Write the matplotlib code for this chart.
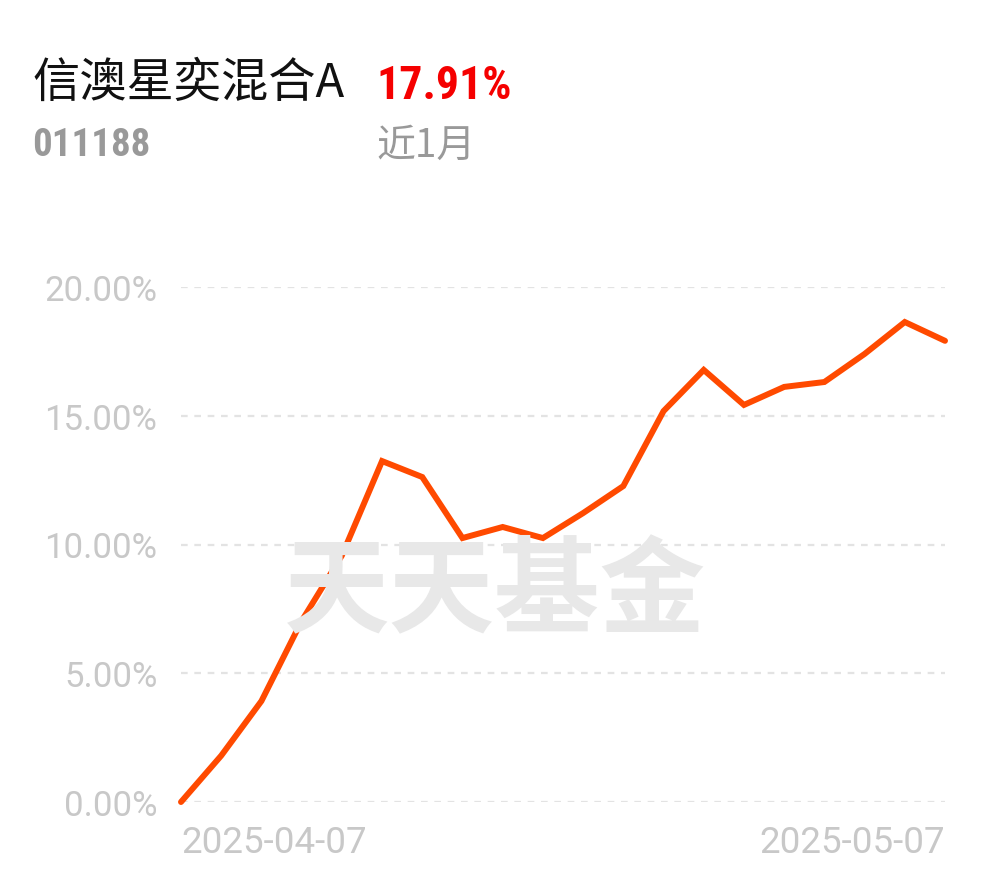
import matplotlib
matplotlib.use("Agg")
import matplotlib.pyplot as plt

plt.rcParams['font.family'] = ['Roboto', 'Noto Sans CJK SC', 'DejaVu Sans']

fund_name = "信澳星奕混合A"
fund_code = "011188"
period_return = "17.91%"
period_label = "近1月"
dates = ["2025-04-07", "2025-04-08", "2025-04-09", "2025-04-10", "2025-04-11",
         "2025-04-14", "2025-04-15", "2025-04-16", "2025-04-17", "2025-04-18",
         "2025-04-21", "2025-04-22", "2025-04-23", "2025-04-24", "2025-04-25",
         "2025-04-28", "2025-04-29", "2025-04-30", "2025-05-06", "2025-05-07"]
returns = [0.00, 1.80, 3.92, 7.03, 9.57, 13.24, 12.62, 10.25, 10.68, 10.25,
           11.22, 12.27, 15.18, 16.78, 15.42, 16.12, 16.31, 17.40, 18.64, 17.91]
y_ticks = [0, 5, 10, 15, 20]
y_tick_labels = ["0.00%", "5.00%", "10.00%", "15.00%", "20.00%"]

W, H = 990, 878
fig = plt.figure(figsize=(W / 100, H / 100), dpi=100)
fig.patch.set_facecolor('white')

ax = fig.add_axes([181 / W, (H - 803) / H, (945 - 181) / W, (803 - 288) / H])
x = list(range(len(dates)))

ax.set_xlim(0, len(dates) - 1)
ax.set_ylim(0, 20)

for yt in y_ticks:
    ax.axhline(yt, color='#e3e3e3', lw=1.6, ls=(0, (3, 3)), zorder=1)

# watermark
fig.text(495 / W, 1 - 594 / H, "天天基金", fontsize=76, fontweight='bold',
         color='#e8e8e8', ha='center', va='center', family=['Noto Sans CJK SC'],
         zorder=0)

ax.plot(x, returns, color='#FF4A00', lw=4.3, solid_joinstyle='miter',
        solid_capstyle='round', clip_on=False, zorder=3)

for s in ax.spines.values():
    s.set_visible(False)
ax.set_facecolor('none')
ax.tick_params(length=0)
ax.set_yticks(y_ticks)
ax.set_yticklabels(y_tick_labels, fontsize=25, color='#c8c8c8')
ax.tick_params(axis='y', pad=17)
ax.set_xticks([x[0], x[-1]])
xl = ax.set_xticklabels([dates[0], dates[-1]], fontsize=26.5, color='#c8c8c8')
xl[0].set_ha('left')
xl[1].set_ha('right')
ax.tick_params(axis='x', pad=16)

fig.text(32 / W, 1 - 84 / H, fund_name, fontsize=34, color='#111111',
         va='center', ha='left', family=['Noto Sans CJK SC'])
fig.text(376 / W, 1 - 86 / H, period_return, fontsize=33, color='#F50000',
         va='center', ha='left', fontweight='bold', family=['Roboto Condensed', 'Roboto'])
fig.text(32 / W, 1 - 146 / H, fund_code, fontsize=28, color='#999999',
         va='center', ha='left', fontweight='bold', family=['Roboto Condensed', 'Roboto'])
fig.text(376 / W, 1 - 146 / H, period_label, fontsize=28, color='#999999',
         va='center', ha='left', family=['Noto Sans CJK SC'])

fig.savefig("out.png", dpi=100, facecolor='white')
